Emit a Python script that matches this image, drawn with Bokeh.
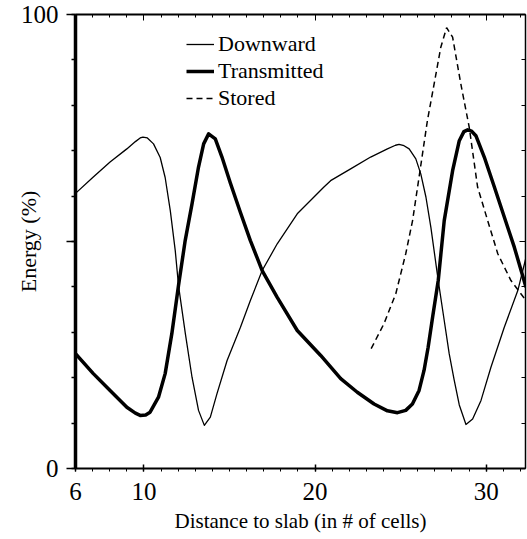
from bokeh.plotting import figure
from bokeh.models import Range1d, LinearAxis, FixedTicker, Legend, LegendItem
from bokeh.embed import file_html
from bokeh.resources import INLINE

# ---- data ----
down_x = [6.0, 7.04, 8.02, 9.0, 9.5, 9.78, 9.94, 10.2, 10.56, 10.95, 11.24, 11.54, 11.83, 12.02,
          12.42, 12.81, 13.19, 13.53, 13.88, 14.27, 14.86, 15.64, 16.22, 16.91, 17.79,
          18.96, 20.52, 20.91, 22.08, 23.25, 24.23, 24.7, 24.91, 25.2, 25.5, 25.89, 26.18, 26.48,
          26.77, 27.2, 27.55, 27.84, 28.13, 28.43, 28.82, 29.21, 29.7, 30.28, 31.06,
          31.85, 32.33]
down_y = [60.6, 64.2, 67.5, 70.4, 72.0, 72.8, 73.0, 72.8, 71.5, 68.5, 64.1, 56.8, 48.0, 40.3,
          29.7, 20.1, 12.8, 9.5, 11.3, 16.5, 23.8, 31.1, 37.0, 43.6, 49.5,
          56.1, 62.0, 63.4, 66.0, 68.6, 70.4, 71.2, 71.4, 71.1, 70.4, 68.2, 64.9, 59.8,
          53.1, 41.4, 32.6, 25.3, 19.5, 14.0, 9.7, 10.9, 15.0, 22.3, 31.1,
          39.2, 46.5]

trans_x = [6.0, 7.04, 8.02, 9.0, 9.5, 9.78, 10.1, 10.36, 10.85, 11.24, 11.63, 12.02, 12.41, 12.81,
           13.19, 13.49, 13.78, 14.17, 14.56, 15.05, 15.64, 16.22, 16.91, 17.79, 18.96,
           20.33, 21.5, 22.47, 23.45, 24.23, 24.82, 25.3, 25.69, 26.08, 26.37, 26.61,
           26.87, 27.2, 27.55, 28.04, 28.43, 28.7, 28.92, 29.15, 29.4, 29.89, 30.48, 31.06, 31.65,
           32.33]
trans_y = [25.3, 20.9, 17.2, 13.5, 12.2, 11.7, 11.8, 12.4, 15.7, 20.9, 29.7, 40.3, 50.2, 58.3,
           66.4, 71.5, 73.7, 72.6, 68.6, 62.9, 56.4, 50.2, 43.6, 37.7, 30.4,
           24.9, 19.8, 16.8, 14.2, 12.7, 12.3, 12.8, 14.2, 17.2, 21.6, 26.7,
           33.3, 41.4, 54.6, 65.6, 72.2, 74.2, 74.6, 74.3, 73.3, 68.6, 62.0, 55.4, 48.7,
           39.9]

stored_x = [23.28, 24.03, 24.72, 25.3, 25.7, 26.08, 26.57, 26.96, 27.35, 27.69, 28.04,
            28.52, 29.01, 29.5, 30.09, 30.68, 31.45, 32.33]
stored_y = [26.4, 31.9, 38.5, 47.3, 54.6, 64.2, 76.7, 84.7, 92.8, 97.1, 95.0,
            84.7, 75.2, 62.0, 54.6, 47.3, 41.4, 37.0]

x_major = [6, 10, 20, 30]
x_minor = list(range(6, 33))
y_major = [0, 50, 100]
y_minor = list(range(0, 101, 10))
y_overrides = {50: ""}

labels = ["Downward", "Transmitted", "Stored"]
x_label = "Distance to slab (in # of cells)"
y_label = "Energy (%)"

FONT = "Liberation Serif"

p = figure(width=527, height=539, output_backend="svg", toolbar_location=None,
           x_range=Range1d(6, 32.3), y_range=Range1d(0, 100),
           x_axis_location=None, y_axis_location=None,
           min_border_left=75, min_border_right=2, min_border_top=14, min_border_bottom=71)
p.outline_line_color = None
p.grid.visible = False
p.background_fill_color = "white"

r1 = p.line(down_x, down_y, line_color="black", line_width=1.3, line_join="round")
r2 = p.line(trans_x, trans_y, line_color="black", line_width=3.5, line_join="round")
r3 = p.line(stored_x, stored_y, line_color="black", line_width=1.5, line_dash="6 4")

# bottom axis
xb = LinearAxis(ticker=FixedTicker(ticks=x_major, minor_ticks=x_minor))
xb.axis_label = x_label
xb.axis_label_text_font = FONT
xb.axis_label_text_font_style = "normal"
xb.axis_label_text_font_size = "21px"
xb.axis_label_text_color = "black"
xb.axis_label_standoff = 6
xb.major_label_text_font = FONT
xb.major_label_text_font_size = "25px"
xb.major_label_text_color = "black"
xb.major_label_standoff = 11
xb.axis_line_width = 2
xb.major_tick_in = 4
xb.major_tick_out = 3
xb.minor_tick_in = 0
xb.minor_tick_out = 3
xb.major_tick_line_width = 1.5
p.add_layout(xb, "below")

# left axis
yl = LinearAxis(ticker=FixedTicker(ticks=y_major, minor_ticks=y_minor))
yl.major_label_overrides = y_overrides
yl.axis_label = y_label
yl.axis_label_text_font = FONT
yl.axis_label_text_font_style = "normal"
yl.axis_label_text_font_size = "22px"
yl.axis_label_text_color = "black"
yl.axis_label_standoff = -23
yl.major_label_text_font = FONT
yl.major_label_text_font_size = "25px"
yl.major_label_text_color = "black"
yl.major_label_standoff = 8
yl.axis_line_width = 3.5
yl.major_tick_in = 0
yl.major_tick_out = 9
yl.minor_tick_in = 0
yl.minor_tick_out = 4
yl.major_tick_line_width = 1.5
yl.minor_tick_line_width = 1.5
p.add_layout(yl, "left")

# top axis (ticks only)
xt = LinearAxis(ticker=FixedTicker(ticks=x_major[1:], minor_ticks=x_minor))
xt.major_label_overrides = {t: "" for t in x_major}
xt.major_label_text_color = None
xt.major_label_standoff = 0
xt.axis_line_width = 2
xt.major_tick_in = 6
xt.major_tick_out = 0
xt.minor_tick_in = 3
xt.minor_tick_out = 0
p.add_layout(xt, "above")

# right axis (ticks only)
yr = LinearAxis(ticker=FixedTicker(ticks=y_major, minor_ticks=y_minor))
yr.major_label_overrides = {t: "" for t in y_major}
yr.major_label_text_color = None
yr.major_label_standoff = 0
yr.axis_line_width = 1.5
yr.major_tick_in = 6
yr.major_tick_out = 0
yr.minor_tick_in = 4
yr.minor_tick_out = 0
p.add_layout(yr, "right")

legend = Legend(items=[LegendItem(label=labels[0], renderers=[r1]),
                       LegendItem(label=labels[1], renderers=[r2]),
                       LegendItem(label=labels[2], renderers=[r3])],
                location=(111, 357))
legend.border_line_color = None
legend.background_fill_alpha = 0
legend.glyph_width = 28
legend.glyph_height = 20
legend.label_standoff = 4
legend.label_height = 27
legend.spacing = 0
legend.padding = 0
legend.margin = 0
legend.label_text_font = FONT
legend.label_text_font_size = "22px"
legend.label_text_color = "black"
p.add_layout(legend)

open("out.html", "w").write(file_html(p, INLINE))
